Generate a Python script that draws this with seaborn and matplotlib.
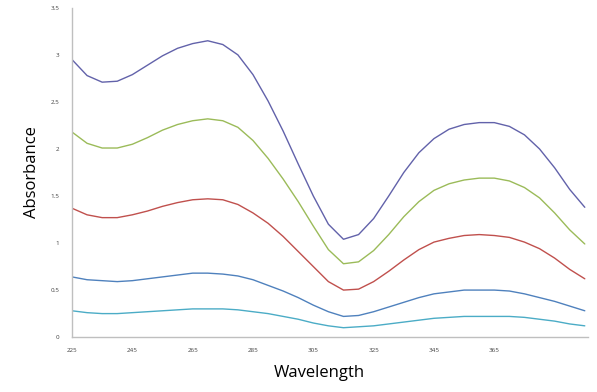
import pandas as pd
import matplotlib
matplotlib.use("Agg")
import matplotlib.pyplot as plt
import seaborn as sns

# wavelengths (nm), read every 5 nm off the picture
wavelength = list(range(225, 400, 5))

# absorbance per sample, top curve first
s1 = [2.95, 2.78, 2.71, 2.72, 2.79, 2.89, 2.99, 3.07, 3.12, 3.15,
      3.11, 3.00, 2.79, 2.51, 2.19, 1.84, 1.50, 1.20, 1.04, 1.09,
      1.26, 1.50, 1.75, 1.96, 2.11, 2.21, 2.26, 2.28, 2.28, 2.24,
      2.15, 2.00, 1.80, 1.57, 1.38]
s2 = [2.18, 2.06, 2.01, 2.01, 2.05, 2.12, 2.20, 2.26, 2.30, 2.32,
      2.30, 2.23, 2.09, 1.90, 1.68, 1.44, 1.18, 0.93, 0.78, 0.80,
      0.92, 1.09, 1.28, 1.44, 1.56, 1.63, 1.67, 1.69, 1.69, 1.66,
      1.59, 1.48, 1.32, 1.14, 0.99]
s3 = [1.37, 1.30, 1.27, 1.27, 1.30, 1.34, 1.39, 1.43, 1.46, 1.47,
      1.46, 1.41, 1.32, 1.21, 1.07, 0.91, 0.75, 0.59, 0.50, 0.51,
      0.59, 0.70, 0.82, 0.93, 1.01, 1.05, 1.08, 1.09, 1.08, 1.06,
      1.01, 0.94, 0.84, 0.72, 0.62]
s4 = [0.64, 0.61, 0.60, 0.59, 0.60, 0.62, 0.64, 0.66, 0.68, 0.68,
      0.67, 0.65, 0.61, 0.55, 0.49, 0.42, 0.34, 0.27, 0.22, 0.23,
      0.27, 0.32, 0.37, 0.42, 0.46, 0.48, 0.50, 0.50, 0.50, 0.49,
      0.46, 0.42, 0.38, 0.33, 0.28]
s5 = [0.28, 0.26, 0.25, 0.25, 0.26, 0.27, 0.28, 0.29, 0.30, 0.30,
      0.30, 0.29, 0.27, 0.25, 0.22, 0.19, 0.15, 0.12, 0.10, 0.11,
      0.12, 0.14, 0.16, 0.18, 0.20, 0.21, 0.22, 0.22, 0.22, 0.22,
      0.21, 0.19, 0.17, 0.14, 0.12]

series = ["s1", "s2", "s3", "s4", "s5"]
colores = ["#6262AA", "#9BBB59", "#C0504D", "#4F81BD", "#4BACC6"]

xticks = [225, 245, 265, 285, 305, 325, 345, 365]
yticks = [0, 0.5, 1, 1.5, 2, 2.5, 3, 3.5]
ytick_labels = ["0", "0.5", "1", "1.5", "2", "2.5", "3", "3.5"]

# tabla larga para seaborn
df = pd.DataFrame({"wavelength": wavelength, "s1": s1, "s2": s2,
                   "s3": s3, "s4": s4, "s5": s5})
df_long = df.melt(id_vars="wavelength", var_name="sample", value_name="abs")

sns.set_style("white")
plt.rcParams["font.family"] = ["Open Sans", "DejaVu Sans"]

fig = plt.figure(figsize=(5.97, 3.92), dpi=100)
ax = fig.add_axes([0.1206, 0.140, 0.864, 0.840])

sns.lineplot(data=df_long, x="wavelength", y="abs", hue="sample",
             hue_order=series, palette=dict(zip(series, colores)),
             linewidth=1.0, legend=False, ax=ax)

ax.set_xlim(225, 396)
ax.set_ylim(0, 3.5)
ax.set_xticks(xticks)
ax.set_xticklabels([str(t) for t in xticks])
ax.set_yticks(yticks)
ax.set_yticklabels(ytick_labels)
ax.tick_params(axis="both", length=0, labelsize=4.5, labelcolor="#404040")
ax.tick_params(axis="x", pad=8)
ax.tick_params(axis="y", pad=9)

for side in ["top", "right"]:
    ax.spines[side].set_visible(False)
for side in ["left", "bottom"]:
    ax.spines[side].set_color("#BFBFBF")
    ax.spines[side].set_linewidth(1.0)

ax.set_xlabel("Wavelength", fontsize=12, labelpad=8, color="#000000")
ax.set_ylabel("Absorbance", fontsize=12, labelpad=8, color="#000000")
ax.xaxis.set_label_coords(0.48, -0.085)

fig.savefig("out.png", dpi=100)
